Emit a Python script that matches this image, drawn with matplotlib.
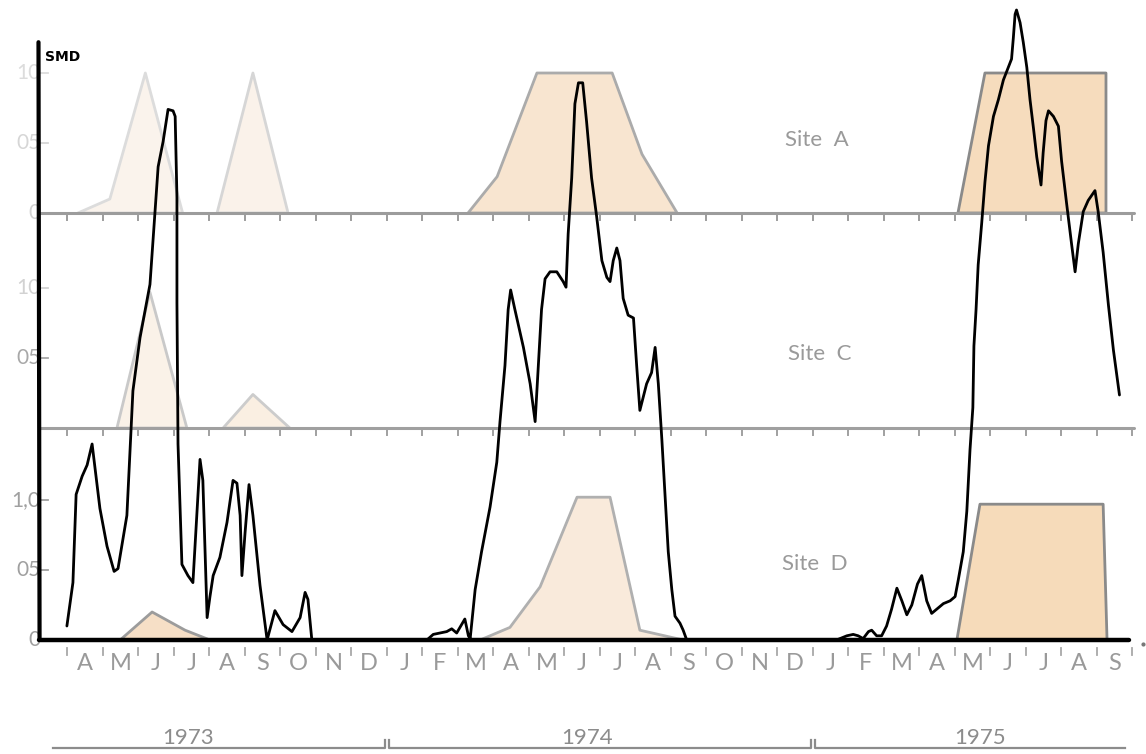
import matplotlib
matplotlib.use("Agg")
import matplotlib.pyplot as plt

# ---------------------------------------------------------------------------
# Data: x is months counted from 1 Jan 1973 (Apr 1973 spans 3..4),
# y is soil moisture deficit (SMD) on the Site D scale.
# ---------------------------------------------------------------------------
month_labels = ["A", "M", "J", "J", "A", "S", "O", "N", "D",
                "J", "F", "M", "A", "M", "J", "J", "A", "S", "O", "N", "D",
                "J", "F", "M", "A", "M", "J", "J", "A", "S"]
first_month = 3            # April 1973
years = ["1973", "1974", "1975"]
year_centres = [6.4, 17.64, 28.71]
year_spans = [(2.5, 12.0), (12.0, 24.0), (24.0, 32.9)]

smd_month = [
    2.99, 3.16, 3.25, 3.42, 3.56, 3.70, 3.92, 4.12, 4.32, 4.43, 4.68, 4.85,
    5.05, 5.33, 5.56, 5.70, 5.84, 5.98, 6.04, 6.09, 6.09, 6.12, 6.23, 6.40,
    6.54, 6.65, 6.74, 6.82, 6.94, 7.02, 7.11, 7.30, 7.50, 7.67, 7.78, 7.87,
    7.92, 8.01, 8.12, 8.23, 8.43, 8.63, 8.85, 9.08, 9.33, 9.56, 9.70, 9.78,
    9.89,
    13.13, 13.31, 13.50, 13.69, 13.83, 13.97, 14.11, 14.20, 14.30, 14.35,
    14.49, 14.67, 14.91, 15.10, 15.19, 15.33, 15.42, 15.49, 15.61, 15.85,
    16.04, 16.18, 16.27, 16.36, 16.46, 16.60, 16.79, 16.97, 17.05, 17.11,
    17.21, 17.30, 17.40, 17.52, 17.63, 17.77, 17.91, 18.06, 18.20, 18.29,
    18.38, 18.48, 18.57, 18.66, 18.80, 18.95, 19.04, 19.13, 19.32, 19.46,
    19.56, 19.65, 19.75, 19.84, 19.93, 20.03, 20.12, 20.26, 20.35, 20.45,
    24.67, 24.96, 25.14, 25.28, 25.42, 25.57, 25.66, 25.80, 25.94, 26.08,
    26.22, 26.37, 26.51, 26.65, 26.79, 26.95, 27.07, 27.21, 27.35, 27.49,
    27.68, 27.87, 28.01, 28.10, 28.24, 28.34, 28.43, 28.51, 28.54, 28.60,
    28.66, 28.76, 28.85, 28.95, 29.09, 29.23, 29.37, 29.51, 29.60, 29.65,
    29.70, 29.74, 29.84, 29.93, 30.03, 30.12, 30.22, 30.31, 30.43, 30.49,
    30.57, 30.64, 30.78, 30.92, 31.01, 31.15, 31.29, 31.39, 31.48, 31.62,
    31.76, 31.95, 32.04, 32.18, 32.33, 32.47, 32.64,
]
smd_value = [
    0.10, 0.41, 1.04, 1.17, 1.25, 1.40, 0.94, 0.67, 0.49, 0.51, 0.89, 1.78,
    2.16, 2.54, 3.38, 3.56, 3.79, 3.78, 3.74, 3.16, 2.41, 1.40, 0.54, 0.46,
    0.41, 0.89, 1.29, 1.14, 0.16, 0.31, 0.46, 0.59, 0.84, 1.14, 1.12, 0.89,
    0.46, 0.77, 1.11, 0.89, 0.39, 0.00, 0.21, 0.11, 0.06, 0.16, 0.34, 0.29,
    0.00,
    0.00, 0.04, 0.05, 0.06, 0.08, 0.05, 0.11, 0.15, 0.03, 0.01,
    0.36, 0.63, 0.95, 1.27, 1.56, 1.96, 2.36, 2.50, 2.36, 2.09,
    1.83, 1.56, 1.96, 2.36, 2.58, 2.63, 2.63, 2.56, 2.52, 2.90,
    3.30, 3.83, 3.98, 3.98, 3.70, 3.30, 3.03, 2.71, 2.59, 2.56,
    2.71, 2.80, 2.71, 2.44, 2.32, 2.30, 1.96, 1.64, 1.83, 1.91,
    2.09, 1.83, 1.43, 1.03, 0.63, 0.36, 0.17, 0.12, 0.07, 0.00,
    0.00, 0.03, 0.04, 0.03, 0.01, 0.06, 0.07, 0.03, 0.03, 0.10,
    0.22, 0.37, 0.28, 0.18, 0.25, 0.40, 0.46, 0.28, 0.19, 0.22,
    0.26, 0.28, 0.31, 0.43, 0.63, 0.92, 1.36, 1.66, 2.10, 2.36,
    2.68, 2.98, 3.27, 3.53, 3.74, 3.86, 4.00, 4.09, 4.15, 4.30,
    4.47, 4.50, 4.41, 4.27, 4.09, 3.86, 3.65, 3.45, 3.25, 3.48,
    3.71, 3.78, 3.74, 3.67, 3.42, 3.12, 2.83, 2.63, 2.83, 3.06,
    3.14, 3.21, 3.06, 2.77, 2.39, 2.07, 1.75,
]

# Shaded periods for each site: (months, relative value 0..1)
site_a_months = [[3.3, 4.2, 5.2, 6.25],
                 [7.22, 8.23, 9.22],
                 [14.29, 15.11, 16.23, 18.35, 19.19, 20.18],
                 [28.09, 28.85, 32.26, 32.26]]
site_a_values = [[0.0, 0.10, 1.0, 0.0],
                 [0.0, 1.0, 0.0],
                 [0.0, 0.26, 1.0, 1.0, 0.42, 0.0],
                 [0.0, 1.0, 1.0, 0.0]]
site_c_months = [[4.40, 5.33, 6.37],
                 [7.39, 8.23, 9.27]]
site_c_values = [[0.0, 0.97, 0.0],
                 [0.0, 0.24, 0.0]]
site_d_months = [[4.49, 5.39, 6.32, 7.02],
                 [14.63, 15.47, 16.32, 17.36, 18.29, 19.13, 20.35],
                 [28.06, 28.71, 32.18, 32.29]]
site_d_values = [[0.0, 0.20, 0.07, 0.0],
                 [0.0, 0.09, 0.38, 1.02, 1.02, 0.07, 0.0],
                 [0.0, 0.97, 0.97, 0.0]]

site_names = ["Site A", "Site C", "Site D"]

# ---------------------------------------------------------------------------
# Layout
# ---------------------------------------------------------------------------
px_per_month = 35.5
px_per_unit = 140.0
W, H = 1146, 754
x_left = 3.5 - 85 / px_per_month
y_bottom = (640 - H) / px_per_unit

offset = {"Site A": 3.05, "Site C": 1.514, "Site D": 0.0}
fill_style = {
    "Site A": [("#faf3ec", "#dcdcdc"), ("#faf2ea", "#d6d6d6"),
               ("#f8e5d0", "#ababab"), ("#f6dcbd", "#8a8a8a")],
    "Site C": [("#faf2e8", "#c9c9c9"), ("#faefe2", "#cccccc")],
    "Site D": [("#f6dfc6", "#9c9c9c"), ("#f9eadb", "#b0b0b0"),
               ("#f6dbba", "#8a8a8a")],
}
shapes = {"Site A": (site_a_months, site_a_values),
          "Site C": (site_c_months, site_c_values),
          "Site D": (site_d_months, site_d_values)}

FONT = ["Lato", "DejaVu Sans"]
GREY = "#9a9a9a"

fig = plt.figure(figsize=(W / 100, H / 100), dpi=100)
fig.patch.set_facecolor("white")
ax = fig.add_axes([0, 0, 1, 1])
ax.set_xlim(x_left, x_left + W / px_per_month)
ax.set_ylim(y_bottom, y_bottom + H / px_per_unit)
ax.axis("off")

# shaded periods
for site in site_names:
    base = offset[site]
    months, values = shapes[site]
    for (mx, vy), (fc, ec) in zip(zip(months, values), fill_style[site]):
        ax.fill(mx, [base + v for v in vy], facecolor=fc, edgecolor=ec,
                linewidth=2.0, joinstyle="round", zorder=2)

# panel baselines with month ticks
month_edges = list(range(first_month, first_month + len(month_labels) + 1))
for site, col in (("Site A", "#9c9c9c"), ("Site C", "#a0a0a0")):
    base = offset[site]
    ax.plot([2.2, 33.05], [base, base], color=col, lw=2.2,
            solid_capstyle="round", zorder=3)
    for m in month_edges:
        ax.plot([m, m], [base, base - 0.05], color=col, lw=1.4, zorder=3)

ax.plot([2.2, 32.9], [0, 0], color="black", lw=3.2,
        solid_capstyle="round", zorder=5)
for m in month_edges:
    ax.plot([m, m], [-0.06, -0.11], color="#a8a8a8", lw=1.3, zorder=3)
ax.plot([33.3], [-0.03], marker="o", ms=2, color="#777777", zorder=3)

# vertical SMD axis
ax.plot([2.19, 2.22], [4.27, 0.0], color="black", lw=3.0,
        solid_capstyle="round", zorder=5)
ax.text(2.36, 4.165, "SMD", fontsize=10, fontweight="bold", color="black",
        ha="left", va="center", family=["DejaVu Sans"], zorder=6)

# y tick labels for each panel
tick_text = {
    "Site A": [(0.0, "0", "#d2d2d2"), (0.5, "05", "#d6d6d6"), (1.0, "10", "#dcdcdc")],
    "Site C": [(0.5, "05", "#a8a8a8"), (1.0, "10", "#d2d2d2")],
    "Site D": [(0.0, "0", "#a0a0a0"), (0.5, "05", "#a0a0a0"), (1.0, "1,0", "#a0a0a0")],
}
for site in site_names:
    base = offset[site]
    for v, lab, col in tick_text[site]:
        ax.text(2.25, base + v, lab, fontsize=15, color=col, ha="right",
                va="center", family=FONT, zorder=4)
        if v > 0:
            ax.plot([2.2, 2.45], [base + v, base + v], color=col, lw=1.3, zorder=4)

# site names
site_pos = {"Site A": (24.12, 3.57), "Site C": (24.2, 2.04), "Site D": (24.06, 0.54)}
for site in site_names:
    sx, sy = site_pos[site]
    ax.text(sx, sy, site.replace(" ", "  "), fontsize=16, color="#9a9a9a",
            ha="center", va="center", family=FONT, zorder=4)

# SMD curve
ax.plot(smd_month, smd_value, color="black", lw=2.0,
        solid_joinstyle="round", solid_capstyle="round", zorder=6)

# month labels
for i, lab in enumerate(month_labels):
    ax.text(first_month + i + 0.5, -0.165, lab, fontsize=17, color=GREY,
            ha="center", va="center", family=FONT, zorder=4)

# year labels and brackets
for yr, xc in zip(years, year_centres):
    ax.text(xc, -0.70, yr, fontsize=16, color="#8c8c8c", ha="center",
            va="center", family=FONT, zorder=4)
for i, (a, b) in enumerate(year_spans):
    xs, ys = [], []
    if i > 0:
        xs += [a + 0.05, a + 0.05]
        ys += [-0.715, -0.77]
    xs += [a + 0.1, b - 0.1]
    ys += [-0.77, -0.77]
    if i < len(year_spans) - 1:
        xs += [b - 0.05, b - 0.05]
        ys += [-0.77, -0.715]
    ax.plot(xs, ys, color="#8c8c8c", lw=1.6, zorder=3)

fig.savefig("out.png", dpi=100, facecolor="white")
